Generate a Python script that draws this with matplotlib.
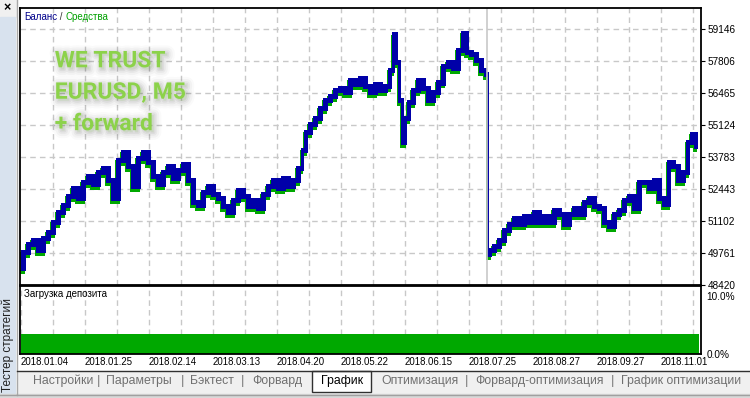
import matplotlib.pyplot as plt
import matplotlib.patheffects as pe
import matplotlib.transforms as mtransforms
from matplotlib.patches import Rectangle
import numpy as np

W, H = 750, 398

# номер сделки (ось X) и баланс
trade_x = [0, 5, 10, 15, 20, 25, 30, 35, 40, 45, 50, 55, 60, 65, 70, 75, 80, 85, 90, 95,
           100, 105, 110, 115, 120, 125, 130, 135, 140, 145, 150, 155, 160, 165, 170, 175,
           180, 185, 190, 195, 200, 205, 210, 215, 220, 225, 230, 235, 240, 245, 250, 255,
           260, 265, 270, 275, 280,
           283, 287, 292, 297, 302, 307, 312, 317, 322, 327, 332, 337, 342, 347, 352, 357,
           362, 367, 371, 374, 377, 380, 383, 386, 390, 395, 400, 405, 410, 415, 420, 425,
           430, 435, 440, 444, 448, 453, 458, 463, 466, 467,
           471, 476, 481, 486, 491, 496, 501, 506, 511, 516, 521, 526, 531, 536, 541, 546,
           551, 556, 561, 566, 571, 576, 581, 586, 591, 596, 601, 606, 611, 616, 621, 626,
           631, 636, 641, 646, 650, 655, 660, 665, 669, 673, 677]
balance = [49110, 49780, 50120, 50290, 49870, 50370, 50620, 51040, 51460, 51750, 52130,
           52460, 52040, 52710, 52970, 52630, 53130, 53300, 52800, 52040, 53640, 53970,
           53390, 52550, 53720, 53970, 53550, 52970, 52630, 53130, 53390, 52880, 53220,
           53470, 52800, 51880, 51750, 52300, 52550, 52210, 52040, 51710, 51460, 51960,
           52380, 52130, 51710, 51960, 51630, 52210, 52550, 52800, 52460, 52880, 52550,
           52800, 53300,
           54060, 54810, 55150, 55400, 55820, 56150, 56320, 56570, 56650, 56490, 56990,
           56820, 57070, 56740, 56490, 56820, 56570, 56740, 57410, 58900, 57740, 56150,
           54390, 55400, 56070, 56570, 56990, 56650, 56150, 56490, 56900, 57580, 57740,
           57490, 58250, 58950, 58160, 58080, 57830, 57410, 57240, 49700,
           49870, 50030, 50290, 50700, 50960, 51210, 50960, 51290, 51040, 51460, 51040,
           51290, 51040, 51540, 51370, 50960, 51370, 51630, 51370, 51880, 52040, 51710,
           51630, 51040, 50870, 51370, 51540, 51960, 52130, 51630, 52710, 52710, 52460,
           52800, 52040, 51790, 53550, 53390, 52800, 53130, 54390, 54730, 54220]
forward_start = 466

y_ticks = [48420, 49761, 51102, 52443, 53783, 55124, 56465, 57806, 59146]
date_labels = ['2018.01.04', '2018.01.25', '2018.02.14', '2018.03.13', '2018.04.20',
               '2018.05.22', '2018.06.15', '2018.07.25', '2018.08.27', '2018.09.27',
               '2018.11.01']
# загрузка депозита, %
load = [3.0, 3.0, 2.9, 3.0, 3.0, 3.0, 2.9, 3.0, 3.0, 3.0, 3.0, 2.9, 3.0, 3.0, 3.0, 3.0,
        3.0, 2.9, 3.0, 3.0, 3.0, 3.0, 3.0, 2.9, 3.0, 3.0, 3.0, 3.0]

tabs = ['Настройки', 'Параметры', 'Бэктест', 'Форвард', 'График', 'Оптимизация',
        'Форвард-оптимизация', 'График оптимизации']
tab_pos = [63, 139, 212, 277, 342, 420, 540, 681]
sep_pos = [99, 183, 243, 467, 613]

BLUE = '#0000a8'
GREEN = '#00a800'
GRID = '#c8c8c8'
FONT = ['Liberation Sans', 'DejaVu Sans']

fig = plt.figure(figsize=(7.5, 3.98), dpi=100)


def rect(x0, y0, x1, y1):
    return [x0 / W, 1 - y1 / H, (x1 - x0) / W, (y1 - y0) / H]


# рамка окна
bg = fig.add_axes([0, 0, 1, 1])
bg.set_xlim(0, W)
bg.set_ylim(H, 0)
bg.axis('off')
bg.add_patch(Rectangle((0, 0), 16, 17, color='#f0f0f0'))
bg.add_patch(Rectangle((0, 17), 15, 378, color='#d8e2ee'))
bg.plot([16.5, 16.5], [0, 395], color='#a8a8a8', lw=1)
bg.text(7, 8, '×', ha='center', va='center', fontsize=9, fontweight='bold', family=FONT)
bg.text(8, 345, 'Тестер стратегий', rotation=90, ha='center', va='center',
        fontsize=8.5, color='#202020', family=FONT)
bg.add_patch(Rectangle((17, 370.5), W - 17, 24, color='#f0f0f0'))
bg.plot([17, W], [370.5, 370.5], color='#303030', lw=1)
bg.add_patch(Rectangle((312, 370.5), 59, 21, facecolor='white', edgecolor='#303030', lw=1))
bg.add_patch(Rectangle((0, 394), W, 4, color='#d8d8d8'))
bg.plot([0, W], [394.5, 394.5], color='#a0a0a0', lw=1)
for name, xp in zip(tabs, tab_pos):
    bg.text(xp, 381, name, ha='center', va='center', fontsize=8.8, family=FONT,
            color='black' if name == 'График' else '#707070')
for xp in sep_pos:
    bg.text(xp, 381, '|', ha='center', va='center', fontsize=9.5, color='#808080', family=FONT)

# график баланса
ax = fig.add_axes(rect(20, 8, 701, 285))
ax.set_xlim(-1, 680)
ax.set_ylim(48420, 48420 + 277 / 32 * (y_ticks[1] - y_ticks[0]))
ax.set_xticks(np.arange(32, 680, 32))
ax.set_xticklabels([])
ax.tick_params(axis='x', length=0)
ax.yaxis.tick_right()
ax.set_yticks(y_ticks)
ax.set_yticklabels([str(v) for v in y_ticks], fontsize=7.2, family=FONT)
ax.tick_params(axis='y', length=3, width=0.8, pad=1.5)
ax.grid(True, color=GRID, linestyle=(0, (4, 3)), lw=1)
ax.set_axisbelow(True)
ax.axvline(forward_start, color='#c8c8c8', lw=1.2)

# столбики от значения к значению, как рисует тестер
bx = np.array(trade_x, dtype=float)
bv = np.array(balance, dtype=float)
widths = np.maximum(np.diff(bx), 2)
lows = np.minimum(bv[:-1], bv[1:])
highs = np.maximum(bv[:-1], bv[1:])
pad = 120
shift = mtransforms.ScaledTranslation(-1.5 / 100, -2.5 / 100, fig.dpi_scale_trans)
ax.bar(bx[:-1], highs - lows + 2 * pad, bottom=lows - pad, width=widths, align='edge',
       color=GREEN, lw=0, transform=ax.transData + shift)
ax.bar(bx[:-1], highs - lows + 2 * pad, bottom=lows - pad, width=widths, align='edge',
       color=BLUE, lw=0)
for s in ax.spines.values():
    s.set_linewidth(1.3)
    s.set_zorder(5)

t1 = ax.text(0.006, 0.968, 'Баланс', transform=ax.transAxes, fontsize=7, color='#00008b',
             family=FONT, va='center')
t2 = ax.annotate(' / ', xy=(1, 0.5), xycoords=t1, va='center', fontsize=7,
                 color='#303030', family=FONT)
ax.annotate('Средства', xy=(1, 0.5), xycoords=t2, va='center', fontsize=7,
            color='#00a000', family=FONT)

shadow = [pe.Stroke(linewidth=11, foreground='#000000', alpha=0.02, offset=(1.5, -1.5)),
          pe.Stroke(linewidth=8, foreground='#000000', alpha=0.03, offset=(1.5, -1.5)),
          pe.Stroke(linewidth=5, foreground='#000000', alpha=0.04, offset=(1.5, -1.5)),
          pe.Stroke(linewidth=2.5, foreground='#000000', alpha=0.05, offset=(1.5, -1.5)),
          pe.Normal()]
for i, line in enumerate(['WE TRUST', 'EURUSD, M5', '+ forward']):
    ax.text(0.051, 0.786 - i * 0.1135, line, transform=ax.transAxes, fontsize=16.5,
            fontweight='bold', color='#8cd24a',
            family=['Roboto', 'DejaVu Sans'], va='baseline', path_effects=shadow)

# загрузка депозита
ax2 = fig.add_axes(rect(20, 286, 701, 354))
ax2.set_xlim(-1, 680)
ax2.set_ylim(0, 10)
step = 678 / len(load)
ax2.bar(np.arange(len(load)) * step, load, width=step, align='edge', color=GREEN, lw=0)
ax2.set_xticks(np.arange(32, 680, 32), minor=True)
ax2.set_xticks(np.arange(0, 680, 64))
ax2.set_xticklabels(date_labels, fontsize=6.9, family=FONT, ha='left')
ax2.tick_params(axis='x', which='both', length=0, pad=2.5)
ax2.grid(True, axis='x', which='both', color=GRID, linestyle=(0, (4, 3)), lw=1)
ax2.set_axisbelow(True)
ax2.yaxis.tick_right()
ax2.set_yticks([0])
ax2.set_yticklabels(['0.0%'], fontsize=7.2, family=FONT)
ax2.tick_params(axis='y', length=0, pad=4)
ax2.annotate('10.0%', xy=(1, 1), xycoords='axes fraction', xytext=(4, -4.5),
             textcoords='offset points', ha='left', va='top', fontsize=7.2, family=FONT)
for s in ax2.spines.values():
    s.set_linewidth(1.3)
ax2.text(0.006, 0.88, 'Загрузка депозита', transform=ax2.transAxes, fontsize=7,
         family=FONT, va='center')

fig.savefig('out.png', dpi=100)
